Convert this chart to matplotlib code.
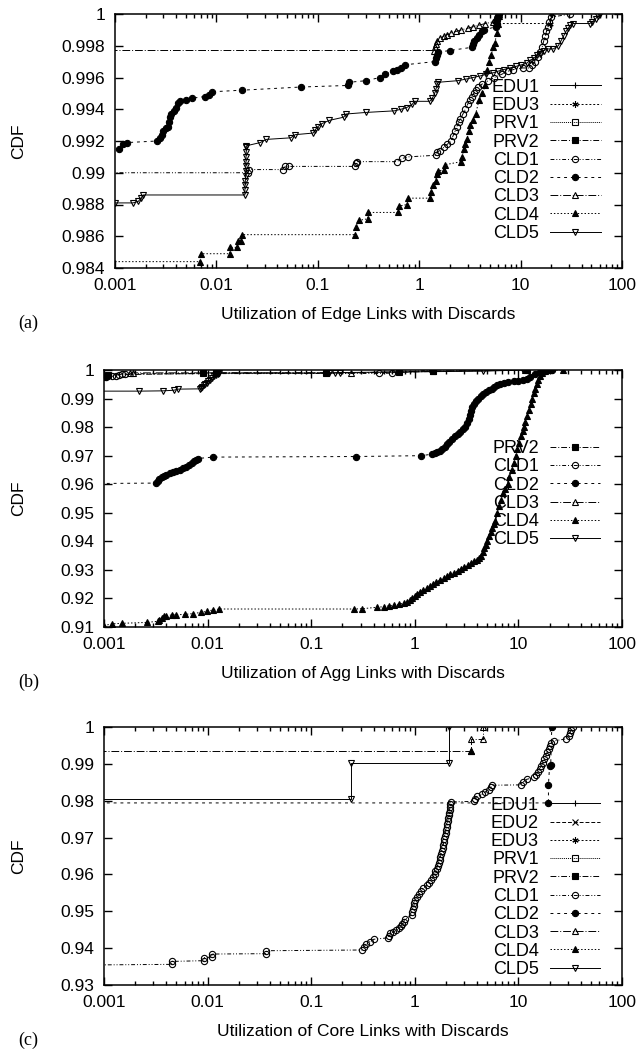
import matplotlib
matplotlib.use('Agg')
from matplotlib import pyplot as plt
from matplotlib.ticker import LogLocator, NullFormatter

plt.rcParams['font.family'] = ['Liberation Sans', 'DejaVu Sans']

x_ticks = [0.001, 0.01, 0.1, 1, 10, 100]
x_ticklabels = ['0.001', '0.01', '0.1', '1', '10', '100']

# ---------------- (a) edge links ----------------
a_names = ['EDU1', 'EDU3', 'PRV1', 'PRV2', 'CLD1', 'CLD2', 'CLD3', 'CLD4', 'CLD5']
a_yticks = [0.984, 0.986, 0.988, 0.99, 0.992, 0.994, 0.996, 0.998, 1]
a_yticklabels = ['0.984', '0.986', '0.988', '0.99', '0.992', '0.994', '0.996', '0.998', '1']

a_edu1_x, a_edu1_y = [], []
a_edu3_x = [5.6, 19.5, 20.5]
a_edu3_y = [0.9994, 0.9994, 1.0]
a_prv1_x, a_prv1_y = [], []
a_prv2_x, a_prv2_y = [], []
a_cld1_x = [0.0005, 0.0205, 0.021, 0.045, 0.047, 0.052, 0.235, 0.24, 0.245, 0.6, 0.68, 0.78, 1.45, 1.5, 1.6,
            1.75, 1.9, 2.05, 2.15, 2.25, 2.35, 2.45, 2.55, 2.7, 2.85, 3.0, 3.15, 3.3, 3.45, 3.6, 3.8, 4.2, 4.8,
            5.5, 6.5, 7.5, 8.5, 10.5, 12.0, 13.0, 14.0, 14.8, 15.6, 16.3, 16.9, 17.5, 18.0, 18.6, 19.2, 20.0, 31.0]
a_cld1_y = [0.99, 0.99, 0.9902, 0.9902, 0.9904, 0.9904, 0.9904, 0.9906, 0.9907, 0.9907, 0.9909, 0.991, 0.9911,
            0.9913, 0.9914, 0.9916, 0.9918, 0.992, 0.9923, 0.9926, 0.9929, 0.9932, 0.9934, 0.9937, 0.994, 0.9943,
            0.9946, 0.9948, 0.995, 0.9952, 0.9954, 0.9956, 0.9958, 0.996, 0.9962, 0.9964, 0.9965, 0.9966, 0.9966,
            0.9968, 0.997, 0.9973, 0.9976, 0.9979, 0.9983, 0.9986, 0.9989, 0.9992, 0.9995, 0.9998, 1.0]
a_cld2_x = [0.0011, 0.0012, 0.0013, 0.0026, 0.0028, 0.0029, 0.003, 0.0032, 0.0033, 0.0034, 0.0035, 0.0036, 0.0038,
            0.004, 0.0042, 0.0044, 0.005, 0.0058, 0.0077, 0.0085, 0.009, 0.0178, 0.068, 0.2, 0.205, 0.3, 0.41, 0.46,
            0.55, 0.6, 0.66, 0.72, 1.42, 1.45, 1.5, 1.55, 2.0, 3.3, 3.4, 3.5, 3.7, 3.9, 4.2, 4.4, 5.7, 5.8, 5.9,
            6.0, 6.1]
a_cld2_y = [0.9915, 0.9918, 0.9919, 0.992, 0.9922, 0.9924, 0.9926, 0.9928, 0.9929, 0.9932, 0.9935, 0.9937, 0.9939,
            0.9941, 0.9944, 0.9945, 0.9946, 0.9947, 0.9948, 0.9949, 0.9951, 0.9952, 0.9954, 0.9955, 0.9957, 0.9958,
            0.996, 0.9962, 0.9964, 0.9965, 0.9966, 0.9968, 0.997, 0.9972, 0.9974, 0.9976, 0.9977, 0.9979, 0.9981,
            0.9983, 0.9985, 0.9987, 0.9989, 0.999, 0.9992, 0.9994, 0.9996, 0.9998, 1.0]
a_cld3_x = [0.0005, 1.4, 1.42, 1.45, 1.5, 1.6, 1.75, 1.9, 2.05, 2.3, 2.6, 3.0, 3.4, 3.9, 4.5, 5.3, 5.6, 5.8]
a_cld3_y = [0.9977, 0.9977, 0.9979, 0.9981, 0.9983, 0.9985, 0.9986, 0.9987, 0.9988, 0.9989, 0.999, 0.9991, 0.9992,
            0.9993, 0.9994, 0.9995, 0.9997, 1.0]
a_cld4_x = [0.0005, 0.0069, 0.007, 0.0135, 0.0137, 0.016, 0.0163, 0.0175, 0.0177, 0.235, 0.238, 0.255, 0.31, 0.315,
            0.62, 0.63, 0.76, 0.77, 1.27, 1.32, 1.36, 1.45, 1.5, 1.55, 1.75, 1.78, 2.6, 2.65, 2.75, 2.85, 2.95, 3.1,
            3.2, 3.4, 3.6, 3.9, 4.2, 4.5, 4.7, 4.9, 5.1, 5.4, 5.6, 5.8, 6.0, 6.1, 6.1]
a_cld4_y = [0.9844, 0.9844, 0.9849, 0.9849, 0.9853, 0.9853, 0.9857, 0.9857, 0.9861, 0.9861, 0.9866, 0.987, 0.9871,
            0.9875, 0.9875, 0.9879, 0.988, 0.9884, 0.9884, 0.9888, 0.9892, 0.9895, 0.9899, 0.9901, 0.9902, 0.9905,
            0.9907, 0.991, 0.9915, 0.9918, 0.9921, 0.9926, 0.993, 0.9933, 0.9937, 0.9946, 0.995, 0.9955, 0.9965,
            0.997, 0.9974, 0.9979, 0.9982, 0.9988, 0.9994, 0.9999, 1.0]
a_cld5_x = [0.001, 0.0015, 0.0017, 0.0018, 0.0019, 0.0191, 0.0191, 0.0192, 0.0193, 0.0194, 0.0195, 0.0195, 0.0196,
            0.0196, 0.0197, 0.0197, 0.0198, 0.027, 0.031, 0.054, 0.06, 0.09, 0.094, 0.1, 0.11, 0.13, 0.18, 0.19, 0.3,
            0.57, 0.66, 0.75, 0.85, 0.9, 1.27, 1.35, 1.42, 1.47, 1.5, 1.55, 2.4, 2.9, 3.4, 4.0, 4.6, 5.4, 6.0, 6.8,
            7.8, 9.0, 10.2, 11.5, 12.5, 13.5, 14.5, 15.7, 17.0, 18.5, 21.0, 23.5, 25.0, 26.5, 28.0, 29.5, 31.0, 33.0,
            48.0, 51.0, 55.0, 58.0, 60.0]
a_cld5_y = [0.9881, 0.9881, 0.9882, 0.9884, 0.9886, 0.9886, 0.9889, 0.9892, 0.9895, 0.9898, 0.9901, 0.9904, 0.9907,
            0.991, 0.9913, 0.9916, 0.9917, 0.9919, 0.9921, 0.9922, 0.9924, 0.9925, 0.9927, 0.9929, 0.9931, 0.9933,
            0.9935, 0.9937, 0.9938, 0.9939, 0.994, 0.9941, 0.9943, 0.9945, 0.9945, 0.9947, 0.995, 0.9953, 0.9956,
            0.9957, 0.9958, 0.9959, 0.996, 0.9961, 0.9962, 0.9963, 0.9964, 0.9965, 0.9966, 0.9967, 0.9968, 0.9969,
            0.9971, 0.9972, 0.9974, 0.9975, 0.9977, 0.9978, 0.9978, 0.998, 0.9983, 0.9986, 0.9989, 0.9991, 0.9993,
            0.9994, 0.9994, 0.9995, 0.9997, 0.9999, 1.0]

# ---------------- (b) agg links ----------------
b_names = ['PRV2', 'CLD1', 'CLD2', 'CLD3', 'CLD4', 'CLD5']
b_yticks = [0.91, 0.92, 0.93, 0.94, 0.95, 0.96, 0.97, 0.98, 0.99, 1]
b_yticklabels = ['0.91', '0.92', '0.93', '0.94', '0.95', '0.96', '0.97', '0.98', '0.99', '1']

b_prv2_x = [0.001, 0.00105, 0.0011, 0.009, 0.012, 0.14, 0.7, 1.5, 12.0]
b_prv2_y = [0.9975, 0.9979, 0.9983, 0.9988, 0.999, 0.999, 0.9992, 0.9995, 1.0]
b_cld1_x = [0.00105, 0.0012, 0.0013, 0.0014, 0.0015, 0.0016, 0.45, 0.6, 1.45]
b_cld1_y = [0.9976, 0.9978, 0.998, 0.9983, 0.9985, 0.9987, 0.9988, 0.9989, 1.0]
b_cld2_x = [0.0005, 0.0032, 0.0033, 0.0034, 0.0036, 0.0038, 0.004, 0.0043, 0.0046, 0.005, 0.0054, 0.0058, 0.0062,
            0.0066, 0.007, 0.0074, 0.0078, 0.008, 0.0113, 0.27, 1.16,
            1.45, 1.55, 1.65, 1.75, 1.85, 1.95, 2.05, 2.15, 2.3, 2.45, 2.6, 2.75, 2.9, 3.05, 3.2, 3.3, 3.4, 3.5,
            3.6, 3.75, 3.9, 4.1, 4.35, 4.6, 4.9, 5.2, 5.5, 5.8, 6.2, 6.6, 7.2, 8.0, 9.0, 10.0, 11.0, 12.0, 13.0,
            14.5, 16.0, 18.0, 21.0]
b_cld2_y = [0.9602, 0.9604, 0.9612, 0.962, 0.9626, 0.963, 0.9634, 0.9638, 0.9642, 0.9646, 0.9651, 0.9656, 0.9662,
            0.9668, 0.9674, 0.968, 0.9686, 0.969, 0.9695, 0.9697, 0.97,
            0.9705, 0.9708, 0.9712, 0.9718, 0.9725, 0.9732, 0.974, 0.9748, 0.9758, 0.9768, 0.9776, 0.9784, 0.9792,
            0.9802, 0.9815, 0.9828, 0.9842, 0.9856, 0.987, 0.9882, 0.9892, 0.99, 0.9908, 0.9915, 0.9922, 0.9929,
            0.9935, 0.994, 0.9946, 0.9951, 0.9955, 0.9958, 0.996, 0.9962, 0.9964, 0.9968, 0.9975, 0.9985, 0.9993,
            0.9998, 1.0]
b_cld3_x = [0.0018, 0.0019, 0.24, 1.5, 11.5]
b_cld3_y = [0.9989, 0.999, 0.999, 0.9996, 1.0]
b_cld4_x = [0.001, 0.0012, 0.0015, 0.0026, 0.0033, 0.0034, 0.0036, 0.0038, 0.004, 0.0045, 0.005, 0.006, 0.0072,
            0.0086, 0.0099, 0.0113, 0.013, 0.26, 0.31,
            0.43, 0.5, 0.56, 0.63, 0.7, 0.78, 0.85, 0.9, 0.95, 1.0, 1.05, 1.12, 1.2, 1.3, 1.4, 1.5, 1.6, 1.75, 1.9,
            2.05, 2.2, 2.4, 2.6, 2.8, 3.0, 3.25, 3.5, 3.75, 4.0, 4.2, 4.4, 4.55, 4.7, 4.85, 5.0, 5.2, 5.4, 5.6, 5.8,
            6.0, 6.25, 6.5, 6.8, 7.1, 7.45, 7.85, 8.2, 8.6, 9.0, 9.4, 9.8, 10.2, 10.6, 11.0, 11.3, 11.7, 12.1, 12.6,
            13.1, 13.6, 14.1, 14.6, 15.1, 15.6, 16.2, 17.0, 18.0, 20.0, 27.0]
b_cld4_y = [0.9105, 0.9111, 0.9113, 0.9116, 0.912, 0.9126, 0.9132, 0.9137, 0.914, 0.9142, 0.9143, 0.9144, 0.9147,
            0.9151, 0.9155, 0.916, 0.9163, 0.9163, 0.9164,
            0.9169, 0.9171, 0.9174, 0.9177, 0.918, 0.9184, 0.9189, 0.9194, 0.9201, 0.921, 0.9217, 0.9223, 0.9229,
            0.9236, 0.9243, 0.925, 0.9257, 0.9264, 0.9271, 0.9278, 0.9284, 0.929, 0.9297, 0.9303, 0.9309, 0.9316,
            0.9323, 0.933, 0.9336, 0.9342, 0.935, 0.9362, 0.9375, 0.9388, 0.94, 0.9417, 0.9432, 0.9446, 0.946,
            0.9472, 0.95, 0.9522, 0.9545, 0.9568, 0.9585, 0.96, 0.9625, 0.965, 0.9675, 0.97, 0.9722, 0.9745, 0.9768,
            0.9788, 0.98, 0.9818, 0.9838, 0.986, 0.988, 0.99, 0.9918, 0.9935, 0.995, 0.9965, 0.998, 0.9991, 0.9997,
            0.9999, 1.0]
b_cld5_x = [0.0005, 0.0022, 0.0037, 0.0047, 0.0052, 0.0085, 0.0087, 0.0089, 0.0092, 0.0095, 0.0098, 0.0102, 0.0106,
            0.011, 0.0115, 0.012, 0.0125, 0.013, 0.15, 0.17, 0.19, 4.6, 11.0]
b_cld5_y = [0.9926, 0.9926, 0.9927, 0.9929, 0.9933, 0.9934, 0.9938, 0.9942, 0.9946, 0.995, 0.9955, 0.996, 0.9966,
            0.9972, 0.9978, 0.9983, 0.9987, 0.9989, 0.9989, 0.999, 0.9991, 0.9996, 1.0]

# ---------------- (c) core links ----------------
c_names = ['EDU1', 'EDU2', 'EDU3', 'PRV1', 'PRV2', 'CLD1', 'CLD2', 'CLD3', 'CLD4', 'CLD5']
c_yticks = [0.93, 0.94, 0.95, 0.96, 0.97, 0.98, 0.99, 1]
c_yticklabels = ['0.93', '0.94', '0.95', '0.96', '0.97', '0.98', '0.99', '1']

c_edu1_x, c_edu1_y = [], []
c_edu2_x, c_edu2_y = [], []
c_edu3_x, c_edu3_y = [], []
c_prv1_x, c_prv1_y = [], []
c_prv2_x, c_prv2_y = [], []
c_cld1_x = [0.0005, 0.0045, 0.0045, 0.0092, 0.0092, 0.011, 0.011, 0.037, 0.037, 0.31, 0.32, 0.34, 0.37, 0.4, 0.55,
            0.56, 0.58, 0.62, 0.66, 0.7, 0.73, 0.76, 0.78, 0.8, 0.93, 0.95, 0.97, 0.98, 0.99, 1.0, 1.05, 1.1, 1.15,
            1.2, 1.3, 1.38, 1.44, 1.5, 1.55, 1.58, 1.62, 1.66, 1.7, 1.74, 1.77, 1.8, 1.83, 1.86, 1.88, 1.9, 1.93,
            1.96, 1.98, 2.0, 2.03, 2.06, 2.08, 2.1, 2.13, 2.15, 2.17, 2.19, 2.2, 2.22, 3.7, 3.8, 4.0, 4.5, 4.8, 5.2,
            5.4, 5.6, 10.5, 11.0, 12.0, 14.2, 14.8, 15.5, 16.0, 16.6, 17.2, 17.8, 18.4, 19.0, 19.6, 20.2, 20.8, 22.0,
            29.0, 30.5, 31.5, 32.5, 33.5]
c_cld1_y = [0.9354, 0.9356, 0.9364, 0.9366, 0.9374, 0.9376, 0.9384, 0.9385, 0.9393, 0.9395, 0.9403, 0.941, 0.9418,
            0.9424, 0.9428, 0.9434, 0.944, 0.9444, 0.9448, 0.9454, 0.946, 0.9466, 0.9472, 0.9478, 0.949, 0.9498,
            0.9506, 0.9514, 0.9522, 0.953, 0.9538, 0.9546, 0.9554, 0.9562, 0.957, 0.9578, 0.9585, 0.9592, 0.96,
            0.9608, 0.9616, 0.9624, 0.9632, 0.964, 0.9648, 0.9656, 0.9664, 0.9672, 0.968, 0.9688, 0.9696, 0.9704,
            0.9712, 0.972, 0.9728, 0.9736, 0.9744, 0.9752, 0.976, 0.9768, 0.9776, 0.9784, 0.9792, 0.9797, 0.9798,
            0.9806, 0.9812, 0.9818, 0.9824, 0.983, 0.9836, 0.9842, 0.9843, 0.985, 0.9858, 0.9863, 0.987, 0.9878,
            0.9886, 0.9894, 0.9902, 0.9912, 0.9922, 0.9932, 0.994, 0.9948, 0.9956, 0.9962, 0.9968, 0.9976, 0.9984,
            0.9992, 1.0]
c_cld2_x = [0.0005, 19.5, 19.5, 20.0, 20.5, 21.0]
c_cld2_y = [0.9794, 0.9794, 0.9843, 0.9895, 0.9896, 1.0]
c_cld3_x = [0.0005, 3.5, 3.5, 4.6, 4.6]
c_cld3_y = [0.9934, 0.9934, 0.9967, 0.9967, 1.0]
c_cld4_x = [3.5]
c_cld4_y = [0.9934]
c_cld5_x = [0.0005, 0.244, 0.244, 2.16, 2.16]
c_cld5_y = [0.9804, 0.9804, 0.9901, 0.9901, 1.0]

styles = {
    'EDU1': dict(ls='-', marker='+', mfc='black'),
    'EDU2': dict(ls=(0, (4, 2)), marker='x', mfc='black'),
    'EDU3': dict(ls=(0, (2, 2)), marker=(6, 2, 0), mfc='black'),
    'PRV1': dict(ls=(0, (1, 1)), marker='s', mfc='none'),
    'PRV2': dict(ls=(0, (6, 2, 1, 2)), marker='s', mfc='black'),
    'CLD1': dict(ls=(0, (4, 2, 1, 2, 1, 2)), marker='o', mfc='none'),
    'CLD2': dict(ls=(0, (3, 4)), marker='o', mfc='black'),
    'CLD3': dict(ls=(0, (8, 2, 1, 2)), marker='^', mfc='none'),
    'CLD4': dict(ls=(0, (1.5, 2)), marker='^', mfc='black'),
    'CLD5': dict(ls='-', marker='v', mfc='none'),
}

panels = [
    dict(names=a_names,
         data={'EDU1': (a_edu1_x, a_edu1_y), 'EDU3': (a_edu3_x, a_edu3_y), 'PRV1': (a_prv1_x, a_prv1_y),
               'PRV2': (a_prv2_x, a_prv2_y), 'CLD1': (a_cld1_x, a_cld1_y), 'CLD2': (a_cld2_x, a_cld2_y),
               'CLD3': (a_cld3_x, a_cld3_y), 'CLD4': (a_cld4_x, a_cld4_y), 'CLD5': (a_cld5_x, a_cld5_y)},
         yticks=a_yticks, yticklabels=a_yticklabels,
         xlabel='Utilization of Edge Links with Discards', tag='(a)',
         rect=[115, 14, 622, 268], legend_top=0.745),
    dict(names=b_names,
         data={'PRV2': (b_prv2_x, b_prv2_y), 'CLD1': (b_cld1_x, b_cld1_y), 'CLD2': (b_cld2_x, b_cld2_y),
               'CLD3': (b_cld3_x, b_cld3_y), 'CLD4': (b_cld4_x, b_cld4_y), 'CLD5': (b_cld5_x, b_cld5_y)},
         yticks=b_yticks, yticklabels=b_yticklabels,
         xlabel='Utilization of Agg Links with Discards', tag='(b)',
         rect=[104, 370, 622, 627], legend_top=0.727),
    dict(names=c_names,
         data={'EDU1': (c_edu1_x, c_edu1_y), 'EDU2': (c_edu2_x, c_edu2_y), 'EDU3': (c_edu3_x, c_edu3_y),
               'PRV1': (c_prv1_x, c_prv1_y), 'PRV2': (c_prv2_x, c_prv2_y), 'CLD1': (c_cld1_x, c_cld1_y),
               'CLD2': (c_cld2_x, c_cld2_y), 'CLD3': (c_cld3_x, c_cld3_y), 'CLD4': (c_cld4_x, c_cld4_y),
               'CLD5': (c_cld5_x, c_cld5_y)},
         yticks=c_yticks, yticklabels=c_yticklabels,
         xlabel='Utilization of Core Links with Discards', tag='(c)',
         rect=[104, 727, 622, 985], legend_top=0.73),
]

W, H = 642, 1049
fig = plt.figure(figsize=(W / 100, H / 100), dpi=100)

for p in panels:
    l, t, r, b = p['rect']
    ax = fig.add_axes([l / W, 1 - b / H, (r - l) / W, (b - t) / H])
    for name in p['names']:
        x, y = p['data'][name]
        assert len(x) == len(y), name
        ax.plot(x, y, color='black', lw=0.7, ms=4.5, mew=0.8, mec='black', label=name, **styles[name])

    ax.set_xscale('log')
    ax.set_xlim(0.001, 100)
    ax.set_ylim(p['yticks'][0], 1)
    ax.set_xticks(x_ticks)
    ax.set_xticklabels(x_ticklabels)
    ax.xaxis.set_minor_locator(LogLocator(base=10, subs=range(2, 10)))
    ax.xaxis.set_minor_formatter(NullFormatter())
    ax.set_yticks(p['yticks'])
    ax.set_yticklabels(p['yticklabels'])
    ax.tick_params(which='both', direction='in', top=True, right=True, labelsize=12.5, width=1)
    ax.tick_params(which='major', length=6, pad=7)
    ax.tick_params(which='minor', length=3)
    for s in ax.spines.values():
        s.set_linewidth(1.1)

    ax.set_xlabel(p['xlabel'], fontsize=12.5, labelpad=10)
    ax.set_ylabel('CDF', fontsize=12.5)
    ax.yaxis.set_label_coords((26 - l) / (r - l), 0.5)

    ax.legend(loc='upper right', bbox_to_anchor=(0.958, p['legend_top']), frameon=False, markerfirst=False,
              fontsize=13, handlelength=2.8, handletextpad=0.6, labelspacing=0.07, borderpad=0,
              borderaxespad=0, numpoints=1)

    fig.text(18 / W, 1 - (b + 55) / H, p['tag'], family=['Liberation Serif', 'DejaVu Serif'],
             fontsize=13, ha='left', va='center')

fig.savefig('out.png', dpi=100)
